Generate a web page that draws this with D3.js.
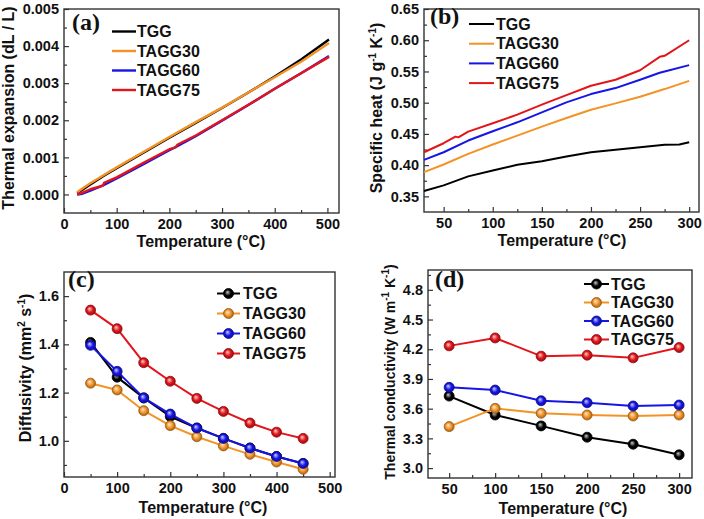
<!DOCTYPE html>
<html><head><meta charset="utf-8">
<script src="https://cdn.jsdelivr.net/npm/d3@7"></script>
<style>
html,body{margin:0;padding:0;background:#fff;}
svg{display:block;font-family:"Liberation Sans",Arial,sans-serif;font-weight:bold;}
</style></head>
<body><svg id="chart" width="704" height="519"></svg>
<script>
// ---------- DATA ----------
const seriesNames = ["TGG", "TAGG30", "TAGG60", "TAGG75"];
const seriesColors = ["#000000", "#f39325", "#1515e6", "#e3151a"];

// (a) thermal expansion vs temperature [T, dL/L]
const expTGG = [[25,0.00004],[35,0.00013],[50,0.00027],[75,0.0005],[100,0.00071],[150,0.00112],[200,0.00153],[250,0.00193],[300,0.00233],[350,0.00275],[400,0.00318],[450,0.00364],[503,0.00418]];
const expTAGG30 = [[25,0.00006],[35,0.00016],[50,0.0003],[75,0.00052],[100,0.00073],[150,0.00114],[200,0.00155],[250,0.00195],[300,0.00234],[350,0.00275],[400,0.00316],[450,0.00358],[503,0.00408]];
const expTAGG60 = [[25,0.0],[35,0.00002],[50,0.0001],[75,0.00025],[100,0.00043],[150,0.00081],[200,0.00119],[215,0.0013],[250,0.00157],[300,0.00199],[350,0.00241],[400,0.00285],[450,0.00327],[503,0.00373]];
const expTAGG75 = [[25,0.0],[35,0.00005],[50,0.00014],[74,0.00024],[76,0.00031],[100,0.00046],[150,0.00085],[200,0.00122],[212,0.00127],[215,0.00134],[250,0.00159],[300,0.002],[350,0.00242],[400,0.00285],[450,0.00327],[503,0.00371]];

// (b) specific heat vs temperature [T, J g-1 K-1]
const cpTGG = [[30,0.3585],[50,0.3676],[75,0.382],[100,0.3915],[125,0.4005],[150,0.4064],[175,0.4138],[200,0.4207],[225,0.4245],[250,0.4287],[275,0.4325],[290,0.433],[300,0.4367]];
const cpTAGG30 = [[30,0.3888],[50,0.401],[75,0.418],[100,0.433],[125,0.4473],[150,0.4617],[175,0.4755],[200,0.4888],[225,0.4989],[250,0.5096],[275,0.5218],[300,0.535]];
const cpTAGG60 = [[30,0.4085],[50,0.4207],[75,0.4394],[100,0.4543],[125,0.4686],[150,0.4846],[175,0.5005],[200,0.5138],[225,0.5234],[250,0.5367],[270,0.548],[275,0.55],[300,0.5601]];
const cpTAGG75 = [[30,0.4207],[50,0.4351],[62,0.4457],[65,0.4445],[75,0.4537],[100,0.467],[125,0.4809],[150,0.4968],[175,0.5122],[200,0.5271],[225,0.5367],[250,0.552],[270,0.5734],[275,0.575],[300,0.60]];

// (c) diffusivity (mm2 s-1)
const diffTemps = [50,100,150,200,250,300,350,400,450];
const diffTGG    = [1.408,1.264,1.178,1.101,1.053,1.010,0.970,0.935,0.906];
const diffTAGG30 = [1.239,1.211,1.125,1.063,1.017,0.979,0.944,0.912,0.882];
const diffTAGG60 = [1.396,1.288,1.178,1.111,1.053,1.010,0.970,0.935,0.906];
const diffTAGG75 = [1.542,1.465,1.324,1.247,1.176,1.122,1.074,1.036,1.010];

// (d) thermal conductivity (W m-1 K-1)
const condTemps = [50,100,150,200,250,300];
const condTGG    = [3.727,3.536,3.426,3.312,3.241,3.134];
const condTAGG30 = [3.419,3.603,3.553,3.536,3.526,3.536];
const condTAGG60 = [3.815,3.788,3.680,3.660,3.627,3.637];
const condTAGG75 = [4.234,4.314,4.130,4.140,4.113,4.217];

// tick values
const ticksA_x = [0,100,200,300,400,500], ticksA_y = [0,0.001,0.002,0.003,0.004,0.005];
const ticksB_x = [50,100,150,200,250,300], ticksB_y = [0.35,0.40,0.45,0.50,0.55,0.60,0.65];
const ticksC_x = [0,100,200,300,400,500], ticksC_y = [1.0,1.2,1.4,1.6];
const ticksD_x = [50,100,150,200,250,300], ticksD_y = [3.0,3.3,3.6,3.9,4.2,4.5,4.8];

// ---------- DRAW ----------
const svg = d3.select("#chart");
svg.append("rect").attr("width",704).attr("height",519).attr("fill","#fff");
const defs = svg.append("defs");
seriesColors.forEach((c,i)=>{
  const g = defs.append("radialGradient").attr("id","grad"+i)
    .attr("cx","50%").attr("cy","50%").attr("r","55%").attr("fx","38%").attr("fy","35%");
  g.append("stop").attr("offset","0%").attr("stop-color", d3.interpolateRgb(c,"#fff")(0.8));
  g.append("stop").attr("offset","55%").attr("stop-color", c);
  g.append("stop").attr("offset","100%").attr("stop-color", d3.interpolateRgb(c,"#000")(0.4));
});

function panel(cfg){
  const g = svg.append("g");
  const x = d3.scaleLinear().domain(cfg.xd).range([cfg.l, cfg.r]);
  const y = d3.scaleLinear().domain(cfg.yd).range([cfg.b, cfg.t]);
  const minorX = [], minorY = [];
  for (let i=0;i<cfg.xt.length-1;i++) minorX.push((cfg.xt[i]+cfg.xt[i+1])/2);
  for (let i=0;i<cfg.yt.length-1;i++) minorY.push((cfg.yt[i]+cfg.yt[i+1])/2);
  if (cfg.extraMinorY) minorY.push(...cfg.extraMinorY);
  const ax = g.append("g").attr("transform",`translate(0,${cfg.b})`)
    .call(d3.axisBottom(x).tickValues(cfg.xt).tickSize(-5).tickPadding(6).tickFormat(d3.format("d")));
  const axm = g.append("g").attr("transform",`translate(0,${cfg.b})`)
    .call(d3.axisBottom(x).tickValues(minorX.filter(v=>v>cfg.xd[0]&&v<cfg.xd[1])).tickSize(-3).tickFormat(""));
  const ay = g.append("g").attr("transform",`translate(${cfg.l},0)`)
    .call(d3.axisLeft(y).tickValues(cfg.yt).tickSize(-5).tickPadding(5).tickFormat(d3.format(cfg.yf)));
  const aym = g.append("g").attr("transform",`translate(${cfg.l},0)`)
    .call(d3.axisLeft(y).tickValues(minorY.filter(v=>v>cfg.yd[0]&&v<cfg.yd[1])).tickSize(-3).tickFormat(""));
  [ax,axm,ay,aym].forEach(a=>{
    a.select(".domain").remove();
    a.selectAll(".tick line").attr("stroke","#333").attr("stroke-width",1.2);
    a.selectAll("text").attr("font-size",14.5).attr("font-weight","bold").attr("fill","#111")
      .attr("font-family","Liberation Sans, Arial, sans-serif");
  });
  g.append("rect").attr("x",cfg.l).attr("y",cfg.t).attr("width",cfg.r-cfg.l).attr("height",cfg.b-cfg.t)
    .attr("fill","none").attr("stroke","#333").attr("stroke-width",1.4);
  const line = d3.line().x(d=>x(d[0])).y(d=>y(d[1]));
  cfg.series.forEach((s,i)=>{
    g.append("path").datum(s).attr("d",line).attr("fill","none")
      .attr("stroke",seriesColors[i]).attr("stroke-width",cfg.lw).attr("stroke-linejoin","round");
    if (cfg.markers){
      g.selectAll(null).data(s).enter().append("circle")
        .attr("cx",d=>x(d[0])).attr("cy",d=>y(d[1])).attr("r",5)
        .attr("fill",`url(#grad${i})`).attr("stroke",d3.interpolateRgb(seriesColors[i],"#000")(0.35)).attr("stroke-width",0.8);
    }
  });
  seriesNames.forEach((n,i)=>{
    const ly = cfg.leg.y + i*cfg.leg.dy;
    g.append("line").attr("x1",cfg.leg.x1).attr("x2",cfg.leg.x2).attr("y1",ly).attr("y2",ly)
      .attr("stroke",seriesColors[i]).attr("stroke-width",cfg.lw);
    if (cfg.markers){
      g.append("circle").attr("cx",(cfg.leg.x1+cfg.leg.x2)/2).attr("cy",ly).attr("r",5)
        .attr("fill",`url(#grad${i})`).attr("stroke",d3.interpolateRgb(seriesColors[i],"#000")(0.35)).attr("stroke-width",0.8);
    }
    g.append("text").attr("x",cfg.leg.tx).attr("y",ly).attr("dy","0.36em")
      .attr("font-size",16).attr("fill","#111").text(n);
  });
  g.append("text").attr("x",cfg.lab.x).attr("y",cfg.lab.y).text(cfg.lab.t)
    .attr("font-family","Liberation Serif, Times New Roman, serif").attr("font-weight","bold")
    .attr("font-size",24).attr("fill","#111");
  g.append("text").attr("x",cfg.xt_pos[0]).attr("y",cfg.xt_pos[1]).attr("text-anchor","middle")
    .attr("font-size",16).attr("fill","#111").text("Temperature (°C)");
  const yt = g.append("text").attr("transform",`translate(${cfg.yt_pos[0]},${cfg.yt_pos[1]}) rotate(-90)`)
    .attr("text-anchor","middle").attr("font-size",cfg.ytSize||16).attr("fill","#111");
  cfg.ytitle.forEach(p=>{
    if (p.sup) yt.append("tspan").attr("dy",-6).attr("font-size",10).text(p.sup);
    else yt.append("tspan").attr("dy",p.after?6:0).text(p.t);
  });
}

panel({l:64,r:339,t:9,b:213,xd:[0,522],yd:[-0.0005,0.005],xt:ticksA_x,yt:ticksA_y,yf:".3f",
  series:[expTGG,expTAGG30,expTAGG60,expTAGG75],lw:2.4,markers:false,
  leg:{x1:112,x2:136,tx:137,y:31.5,dy:19.5},lab:{x:72,y:30,t:"(a)"},
  xt_pos:[201,247],yt_pos:[14,108],
  ytitle:[{t:"Thermal expansion (dL / L)"}]});

panel({l:424,r:699,t:9,b:212,xd:[30,310],yd:[0.325,0.65],xt:ticksB_x,yt:ticksB_y,yf:".2f",
  series:[cpTGG,cpTAGG30,cpTAGG60,cpTAGG75],lw:2,markers:false,
  leg:{x1:469,x2:494,tx:496,y:24,dy:19.7},lab:{x:430,y:24,t:"(b)"},
  xt_pos:[562,246],yt_pos:[382,108],
  ytitle:[{t:"Specific heat (J g"},{sup:"-1"},{t:" K",after:true},{sup:"-1"},{t:")",after:true}]});

panel({l:64,r:335,t:272,b:477,xd:[0,510],yd:[0.85,1.7],xt:ticksC_x,yt:ticksC_y,yf:".1f",
  series:[diffTGG,diffTAGG30,diffTAGG60,diffTAGG75].map(a=>a.map((v,i)=>[diffTemps[i],v])),lw:2,markers:true,
  extraMinorY:[0.9],
  leg:{x1:217,x2:240,tx:243,y:293.5,dy:20},lab:{x:68,y:287,t:"(c)"},
  xt_pos:[203,513],yt_pos:[31,368],
  ytitle:[{t:"Diffusivity (mm"},{sup:"2"},{t:" s",after:true},{sup:"-1"},{t:")",after:true}]});

panel({l:428,r:692,t:270,b:478,xd:[27,314],yd:[2.9,5.0],xt:ticksD_x,yt:ticksD_y,yf:".1f",
  series:[condTGG,condTAGG30,condTAGG60,condTAGG75].map(a=>a.map((v,i)=>[condTemps[i],v])),lw:2,markers:true,
  extraMinorY:[4.95],
  leg:{x1:584,x2:609,tx:611,y:284,dy:18.5},lab:{x:435,y:287,t:"(d)"},
  xt_pos:[563,514],yt_pos:[395,372],ytSize:14,
  ytitle:[{t:"Thermal conductivity (W m"},{sup:"-1"},{t:" K",after:true},{sup:"-1"},{t:")",after:true}]});
</script></body></html>
